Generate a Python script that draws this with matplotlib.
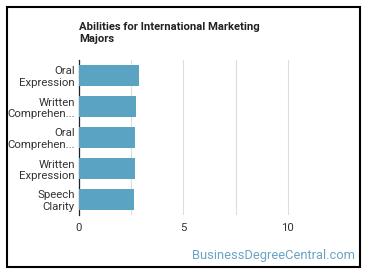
import matplotlib.pyplot as plt
from matplotlib.patches import Rectangle

# data
abilities = ["Oral\nExpression", "Written\nComprehen...", "Oral\nComprehen...",
             "Written\nExpression", "Speech\nClarity"]
scores = [2.86, 2.73, 2.68, 2.68, 2.63]
xticks = [0, 5, 10]

plt.rcParams['font.family'] = ['Roboto', 'DejaVu Sans']

W, H = 370, 278
fig = plt.figure(figsize=(W / 100, H / 100), dpi=100)
fig.patch.set_facecolor('white')

# plot area in pixels: left 79, top 60, right 340, bottom 215
ax = fig.add_axes([79 / W, 1 - 215 / H, (340 - 79) / W, (215 - 60) / H])

ypos = list(range(len(abilities)))
ax.barh(ypos, scores, height=0.65, color='#5ba3c3', zorder=3)
ax.set_ylim(len(abilities) - 0.5, -0.5)
ax.set_xlim(0, 12.5)
ax.set_yticks(ypos)
ax.set_yticklabels(abilities, fontsize=8.2, color='#333333', linespacing=1.15)
ax.set_xticks(xticks)
ax.set_xticklabels([str(t) for t in xticks], fontsize=8.2, color='#333333')
ax.set_xticks([2.5, 7.5], minor=True)
ax.grid(axis='x', which='both', color='#dddddd', linewidth=0.8, zorder=0)
ax.tick_params(axis='both', which='both', length=0, pad=3)
ax.tick_params(axis='x', pad=6)
for s in ['top', 'right', 'bottom']:
    ax.spines[s].set_visible(False)
ax.spines['left'].set_color('#222222')
ax.spines['left'].set_linewidth(0.9)

fig.text(79 / W, 1 - 22 / H, "Abilities for International Marketing\nMajors",
         fontsize=8.1, fontweight='bold', color='#222222', ha='left', va='top',
         linespacing=1.25)

fig.text(355 / W, 1 - 255 / H, "BusinessDegreeCentral.com", fontsize=9.3,
         color='#6aa3c6', ha='right', va='center')

# outer frame
fig.add_artist(Rectangle((7 / W, 1 - 267 / H), (360 - 7) / W, (267 - 7) / H,
                         transform=fig.transFigure, fill=False,
                         edgecolor='black', linewidth=1.5))

fig.savefig('out.png', dpi=100)
